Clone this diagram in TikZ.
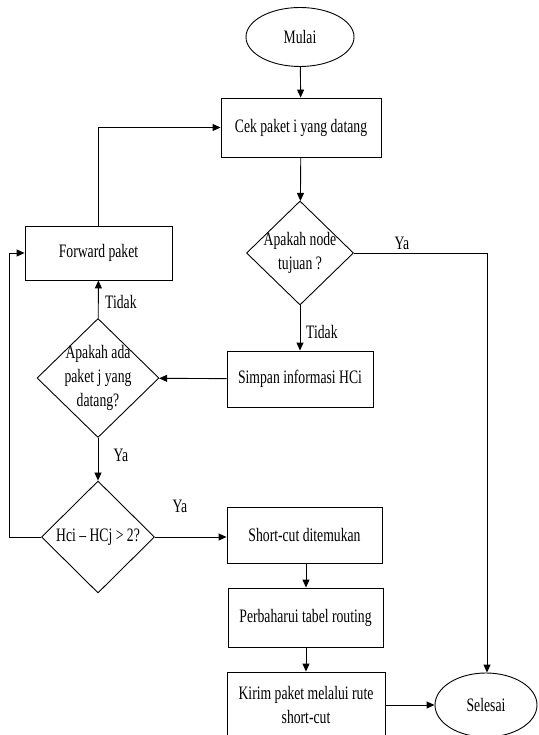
\documentclass[tikz,border=0pt]{standalone}
\usepackage{fontspec}
\setmainfont[FakeStretch=0.72]{Liberation Serif}
\usetikzlibrary{shapes.geometric,arrows.meta}
\begin{document}
\begin{tikzpicture}[x=1pt,y=-1pt,
  every node/.style={font=\fontsize{19}{24}\selectfont},
  terminal/.style={draw,ellipse,line width=0.9pt,inner sep=0pt},
  process/.style={draw,rectangle,line width=0.9pt,inner sep=0pt,align=center},
  decision/.style={draw,diamond,line width=0.9pt,inner sep=0pt},
  dtext/.style={align=center,inner sep=0pt},
  flow/.style={line width=0.9pt,-{Triangle[length=8pt,width=7pt]}},
  lbl/.style={inner sep=0pt}]
\useasboundingbox (0,0) rectangle (538,735);

% terminals
\node[terminal,minimum width=108,minimum height=59] (mulai) at (300,37) {Mulai};
\node[terminal,minimum width=102,minimum height=64] (selesai) at (486,705) {Selesai};

% processes
\node[process,minimum width=160,minimum height=59] (cek) at (301,127.5) {Cek paket i yang datang};
\node[process,minimum width=147,minimum height=54] (forward) at (98.5,253) {Forward paket};
\node[process,minimum width=146,minimum height=56] (simpan) at (300,379) {Simpan informasi HCi};
\node[process,minimum width=155,minimum height=56] (shortcut) at (304.5,535) {Short-cut ditemukan};
\node[process,minimum width=155,minimum height=59] (perbaharui) at (305.5,617.5) {Perbaharui tabel routing};
\node[process,minimum width=158,minimum height=66] (kirim) at (306,705) {Kirim paket melalui rute\\short-cut};

% decisions
\node[decision,minimum width=107,minimum height=104] (d1) at (300,253) {};
\node[dtext] (d1t) at (d1) {Apakah node\\tujuan ?};
\node[decision,minimum width=122,minimum height=119] (d2) at (98,378) {};
\node[dtext] (d2t) at (d2) {Apakah ada\\paket j yang\\datang?};
\node[decision,minimum width=113,minimum height=112] (d3) at (98,537) {};
\node[dtext] (d3t) at (d3) {Hci -- HCj > 2?};

% loop-back corners
\coordinate (leftrail) at (9,537);
\coordinate (rightrail) at (487,253);

% connectors
\draw[flow] (mulai) -- (cek);
\draw[flow] (cek) -- (d1);
\draw[flow] (d1) -- (simpan);
\draw[flow] (d1.east) -- (rightrail) -- (selesai.north -| rightrail);
\draw[flow] (simpan) -- (d2);
\draw[flow] (d2) -- (forward);
\draw[flow] (forward.north) |- (cek.west);
\draw[flow] (d2) -- (d3);
\draw[flow] (d3) -- (shortcut.west |- d3);
\draw[flow] (d3.west) -- (leftrail) |- (forward.west);
\draw[flow] (306,563) -- (perbaharui.north -| 306,0);
\draw[flow] (306,647) -- (kirim.north -| 306,0);
\draw[flow] (kirim.east |- selesai) -- (selesai.west);

% branch labels
\node[lbl,anchor=west] (l1) at (306,332) {Tidak};
\node[lbl] (l2) at (402,243) {Ya};
\node[lbl,anchor=west] (l3) at (105,302) {Tidak};
\node[lbl] (l4) at (121,455) {Ya};
\node[lbl] (l5) at (180,506) {Ya};
\end{tikzpicture}
\end{document}
